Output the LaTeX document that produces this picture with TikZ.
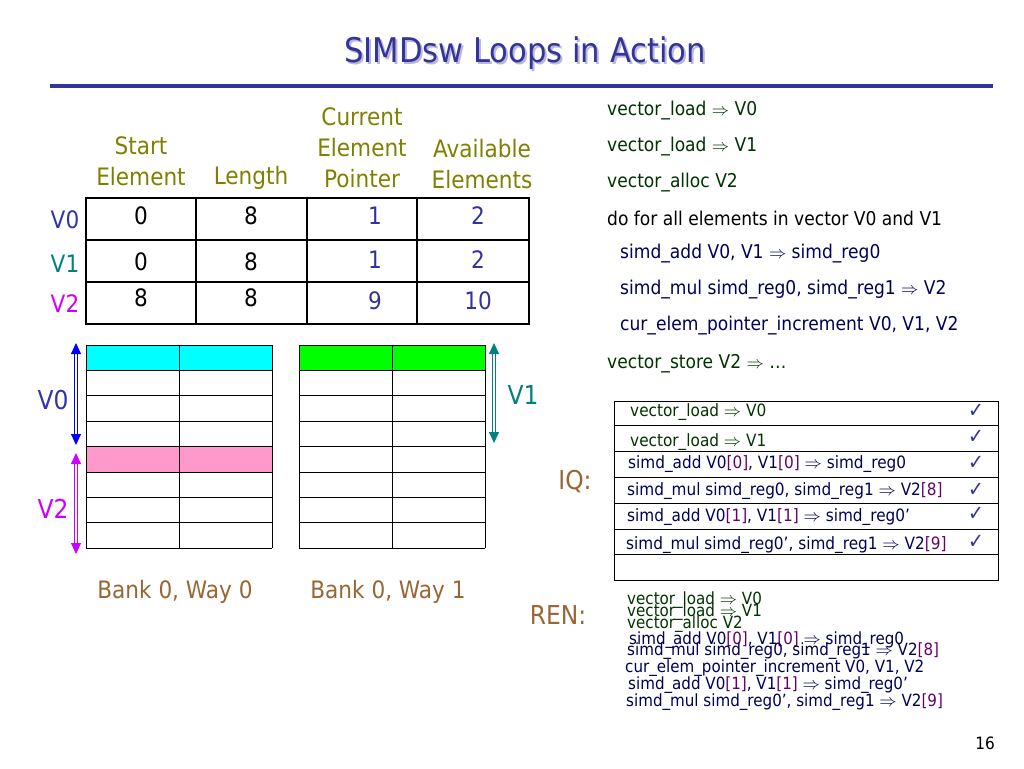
\documentclass[tikz,border=0pt]{standalone}
\usepackage{fontspec}
\setmainfont{DejaVu Sans}[FakeStretch=0.9]
\usetikzlibrary{arrows.meta, positioning}
\usepackage{xcolor}
\definecolor{titleblue}{RGB}{51,51,153}
\definecolor{olive}{RGB}{128,128,0}
\definecolor{vzero}{RGB}{51,51,170}
\definecolor{vone}{RGB}{0,128,128}
\definecolor{vtwo}{RGB}{204,0,255}
\definecolor{numblue}{RGB}{51,51,153}
\definecolor{brownish}{RGB}{153,102,51}
\definecolor{codegreen}{RGB}{0,51,0}
\definecolor{codenavy}{RGB}{0,0,85}
\definecolor{idx}{RGB}{102,0,102}
\definecolor{pinkrow}{RGB}{255,153,204}
\definecolor{cyanrow}{RGB}{0,255,255}
\definecolor{greenrow}{RGB}{0,255,0}
\newcommand{\fs}[1]{\fontsize{#1}{#1}\selectfont}
\newcommand{\ix}[1]{\textcolor{idx}{[#1]}}
\newcommand{\imp}{$\Rightarrow$}
\tikzset{
	txt/.style={inner sep=0pt, anchor=west},
	hdr/.style={inner sep=0pt, align=center, text=olive, font=\fs{24}},
	cell/.style={inner sep=0pt, font=\fs{24}},
	code/.style={txt, font=\fs{19}},
	iq/.style={txt, font=\fs{17}},
	ren/.style={txt, font=\fs{16.8}},
	tick/.style={inner sep=0pt, text=numblue, font=\fs{21}},
	span/.style={{Triangle[length=11pt,width=10pt]}-{Triangle[length=11pt,width=10pt]}, line width=0.9pt, double distance=1.8pt},
	baseline}

\begin{document}
\begin{tikzpicture}[x=1pt, y=-1pt]
		\useasboundingbox (0,0) rectangle (1024,768);
		% title
		\node[inner sep=0pt, text=titleblue!35!white, font=\fs{34}] at (527,55) {SIMDsw Loops in Action};
		\node[inner sep=0pt, text=titleblue, font=\fs{34}] (title) at (525,53) {SIMDsw Loops in Action};
		\draw[titleblue, line width=4pt] (50,86) -- (993,86);
		
		% table
		\draw[line width=1.2pt] (86,198) rectangle (529,324);
		\foreach \x in {196,307,417} \draw[line width=1.2pt] (\x,198) -- (\x,324);
		\foreach \y in {240,282} \draw[line width=1.2pt] (86,\y) -- (529,\y);
		\node[hdr] (hstart) at (141,161) {Start\\[7pt]Element};
		\node[hdr] (hlen) at (251,178) {Length};
		\node[hdr] (hcur) at (362,148) {Current\\[7pt]Element\\[7pt]Pointer};
		\node[hdr] (havail) at (482,164) {Available\\[7pt]Elements};
		\node[cell, text=vzero] (rv0) at (65,220) {V0};
		\node[cell, text=vone] (rv1) at (65,264) {V1};
		\node[cell, text=vtwo] (rv2) at (65,304) {V2};
		\node[cell] at (141,216) {0};
		\node[cell] at (141,262) {0};
		\node[cell] at (141,298) {8};
		\node[cell] at (251,216) {8};
		\node[cell] at (251,262) {8};
		\node[cell] at (251,298) {8};
		\node[cell, text=numblue] at (375,216) {1};
		\node[cell, text=numblue] at (375,260) {1};
		\node[cell, text=numblue] at (375,301) {9};
		\node[cell, text=numblue] at (478,216) {2};
		\node[cell, text=numblue] at (478,260) {2};
		\node[cell, text=numblue] at (478,301) {10};
		
		% banks
		\fill[cyanrow] (86,345) rectangle (272,370.4);
		\fill[pinkrow] (86,446.6) rectangle (272,472);
		\fill[greenrow] (299,345) rectangle (485,370.4);
		\foreach \bx in {86,299} {
			\foreach \i in {0,...,8} \draw[line width=1pt] (\bx,345+25.4*\i) -- (\bx+186,345+25.4*\i);
			\foreach \dx in {0,93,186} \draw[line width=1pt] (\bx+\dx,345) -- (\bx+\dx,548.2);
		}
		\coordinate (v0top) at (76,343);
		\coordinate (v0bot) at (76,445);
		\coordinate (v2top) at (76,453);
		\coordinate (v2bot) at (76,554);
		\coordinate (v1top) at (494,343);
		\coordinate (v1bot) at (494,443);
		\draw[span, blue] (v0top) -- (v0bot);
		\draw[span, vtwo] (v2top) -- (v2bot);
		\draw[span, vone] (v1top) -- (v1bot);
		\node[cell, text=vzero, font=\fs{26}] (lv0) at (53,400) {V0};
		\node[cell, text=vtwo, font=\fs{26}] (lv2) at (53,509) {V2};
		\node[cell, text=vone, font=\fs{26}] (lv1) at (523,395) {V1};
		\node[cell, text=brownish] (bank0) at (175,592) {Bank 0, Way 0};
		\node[cell, text=brownish] (bank1) at (388,592) {Bank 0, Way 1};
		
		% loop code
		\node[code, text=codegreen] (c1) at (607,111) {vector\_load \imp{} V0};
		\node[code, text=codegreen] (c2) at (607,147) {vector\_load \imp{} V1};
		\node[code, text=codegreen] (c3) at (607,183) {vector\_alloc V2};
		\node[code] (c4) at (607,218) {do for all elements in vector V0 and V1};
		\node[code, text=codenavy] (c5) at (620,254) {simd\_add V0, V1 \imp{} simd\_reg0};
		\node[code, text=codenavy] (c6) at (620,290) {simd\_mul simd\_reg0, simd\_reg1 \imp{} V2};
		\node[code, text=codenavy] (c7) at (620,326) {cur\_elem\_pointer\_increment V0, V1, V2};
		\node[code, text=codegreen] (c8) at (607,364) {vector\_store V2 \imp{} …};
		
		% IQ
		\draw[line width=1pt] (614,401) rectangle (998,580);
		\foreach \y in {425,451.5,477.5,503,529,554} \draw[line width=1pt] (614,\y) -- (998,\y);
		\node[cell, text=brownish, font=\fs{26}] (iqlabel) at (575,482) {IQ:};
		\node[iq, text=codegreen] (q1) at (630,412) {vector\_load \imp{} V0};
		\node[iq, text=codegreen] (q2) at (630,442) {vector\_load \imp{} V1};
		\node[iq, text=codenavy] (q3) at (628,464) {simd\_add V0\ix{0}, V1\ix{0} \imp{} simd\_reg0};
		\node[iq, text=codenavy] (q4) at (627,491) {simd\_mul simd\_reg0, simd\_reg1 \imp{} V2\ix{8}};
		\node[iq, text=codenavy] (q5) at (627,517) {simd\_add V0\ix{1}, V1\ix{1} \imp{} simd\_reg0’};
		\node[iq, text=codenavy] (q6) at (626,545) {simd\_mul simd\_reg0’, simd\_reg1 \imp{} V2\ix{9}};
		\foreach \y in {411,437,463,490,514,542} \node[tick] at (976,\y) {✓};
		
		% REN
		\node[cell, text=brownish, font=\fs{26}] (renlabel) at (558,615) {REN:};
		\node[ren, text=codegreen] (r1) at (627,600) {vector\_load \imp{} V0};
		\node[ren, text=codegreen] (r2) at (627,612) {vector\_load \imp{} V1};
		\node[ren, text=codegreen] (r3) at (627,624) {vector\_alloc V2};
		\node[ren, text=codenavy] (r4) at (629,640) {simd\_add V0\ix{0}, V1\ix{0} \imp{} simd\_reg0};
		\node[ren, text=codenavy] (r5) at (627,651) {simd\_mul simd\_reg0, simd\_reg1 \imp{} V2\ix{8}};
		\node[ren, text=codenavy] (r6) at (625,668) {cur\_elem\_pointer\_increment V0, V1, V2};
		\node[ren, text=codenavy] (r7) at (628,685) {simd\_add V0\ix{1}, V1\ix{1} \imp{} simd\_reg0’};
		\node[ren, text=codenavy] (r8) at (626,702) {simd\_mul simd\_reg0’, simd\_reg1 \imp{} V2\ix{9}};
		
		\node[cell, font=\fs{17}] (page) at (985,743) {16};
	\end{tikzpicture}
\end{document}
